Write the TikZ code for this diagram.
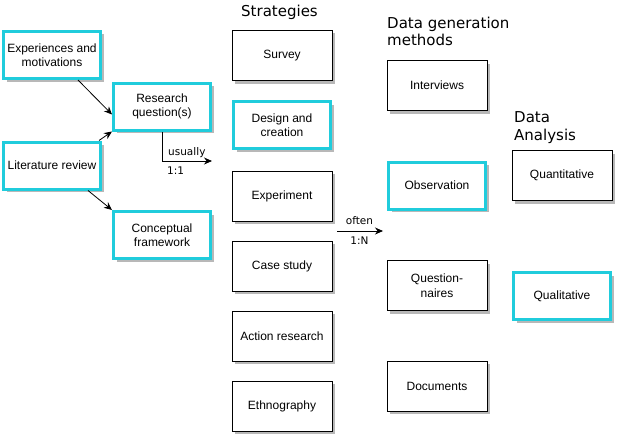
\documentclass[tikz,border=0pt]{standalone}
\usepackage{fontspec}
\setmainfont{Liberation Sans}
\newfontfamily\hdrfont{DejaVu Sans}
\usetikzlibrary{shadows,arrows.meta}
\definecolor{hl}{RGB}{32,204,220}
\tikzset{
  box/.style={draw=black, line width=1pt, fill=white, minimum width=100pt, minimum height=50pt,
    inner sep=0pt, align=center, font=\fontsize{12}{14.5}\selectfont,
    drop shadow={shadow xshift=3pt, shadow yshift=-3pt, fill=black!28, opacity=1}},
  hlbox/.style={box, draw=hl, line width=3pt, minimum width=97pt, minimum height=47pt},
  hdr/.style={anchor=north west, font=\hdrfont\fontsize{15}{17.5}\selectfont, align=left, inner sep=0pt},
  lbl/.style={font=\hdrfont\fontsize{10.5}{12}\selectfont, inner sep=0pt},
  arr/.style={-{Stealth[length=8pt,width=7pt]}, line width=0.8pt}
}
\begin{document}
\begin{tikzpicture}[x=1pt,y=-1pt]
\useasboundingbox (0,0) rectangle (617,436);
% left column
\node[hlbox] (exp) at (52,55) {Experiences and\\motivations};
\node[hlbox] (rq) at (162,106.5) {Research\\question(s)};
\node[hlbox] (lit) at (52,165.5) {Literature review};
\node[hlbox] (cf) at (162,235) {Conceptual\\framework};
% strategies
\node[hdr] (hs) at (241,5) {Strategies};
\node[box] (survey) at (282,55.5) {Survey};
\node[hlbox] (design) at (282,125) {Design and\\creation};
\node[box] (experiment) at (282,196) {Experiment};
\node[box] (case) at (282,266) {Case study};
\node[box] (action) at (282,336) {Action research};
\node[box] (ethno) at (282,406) {Ethnography};
% data generation
\node[hdr] (hg) at (387,16.5) {Data generation\\methods};
\node[box] (interv) at (437,85.5) {Interviews};
\node[hlbox] (obs) at (437,185.5) {Observation};
\node[box] (quest) at (437,285.5) {Question-\\naires};
\node[box] (docs) at (437,386) {Documents};
% data analysis
\node[hdr] (ha) at (514,111.5) {Data\\Analysis};
\node[box] (quant) at (562,175.5) {Quantitative};
\node[hlbox] (qual) at (562,296) {Qualitative};
% connectors
\draw[arr] ([xshift=26pt]exp.south) -- ([yshift=-8pt]rq.west);
\draw[arr] ([xshift=-3pt]lit.north east) -- (rq.south west);
\draw[arr] ([xshift=-14pt]lit.south east) -- (cf.north west);
\coordinate (uend) at (212,161);
\draw[arr] (rq.south) |- (uend);
\node[lbl, anchor=west] (lu) at (168,153) {usually};
\node[lbl, anchor=west] (l11) at (167,171) {1:1};
\coordinate (os) at (337,231);
\coordinate (oe) at (383,231);
\draw[arr] (os) -- (oe);
\node[lbl] (lo) at (359.5,221) {often};
\node[lbl] (l1n) at (359.5,241) {1:N};
\end{tikzpicture}
\end{document}
